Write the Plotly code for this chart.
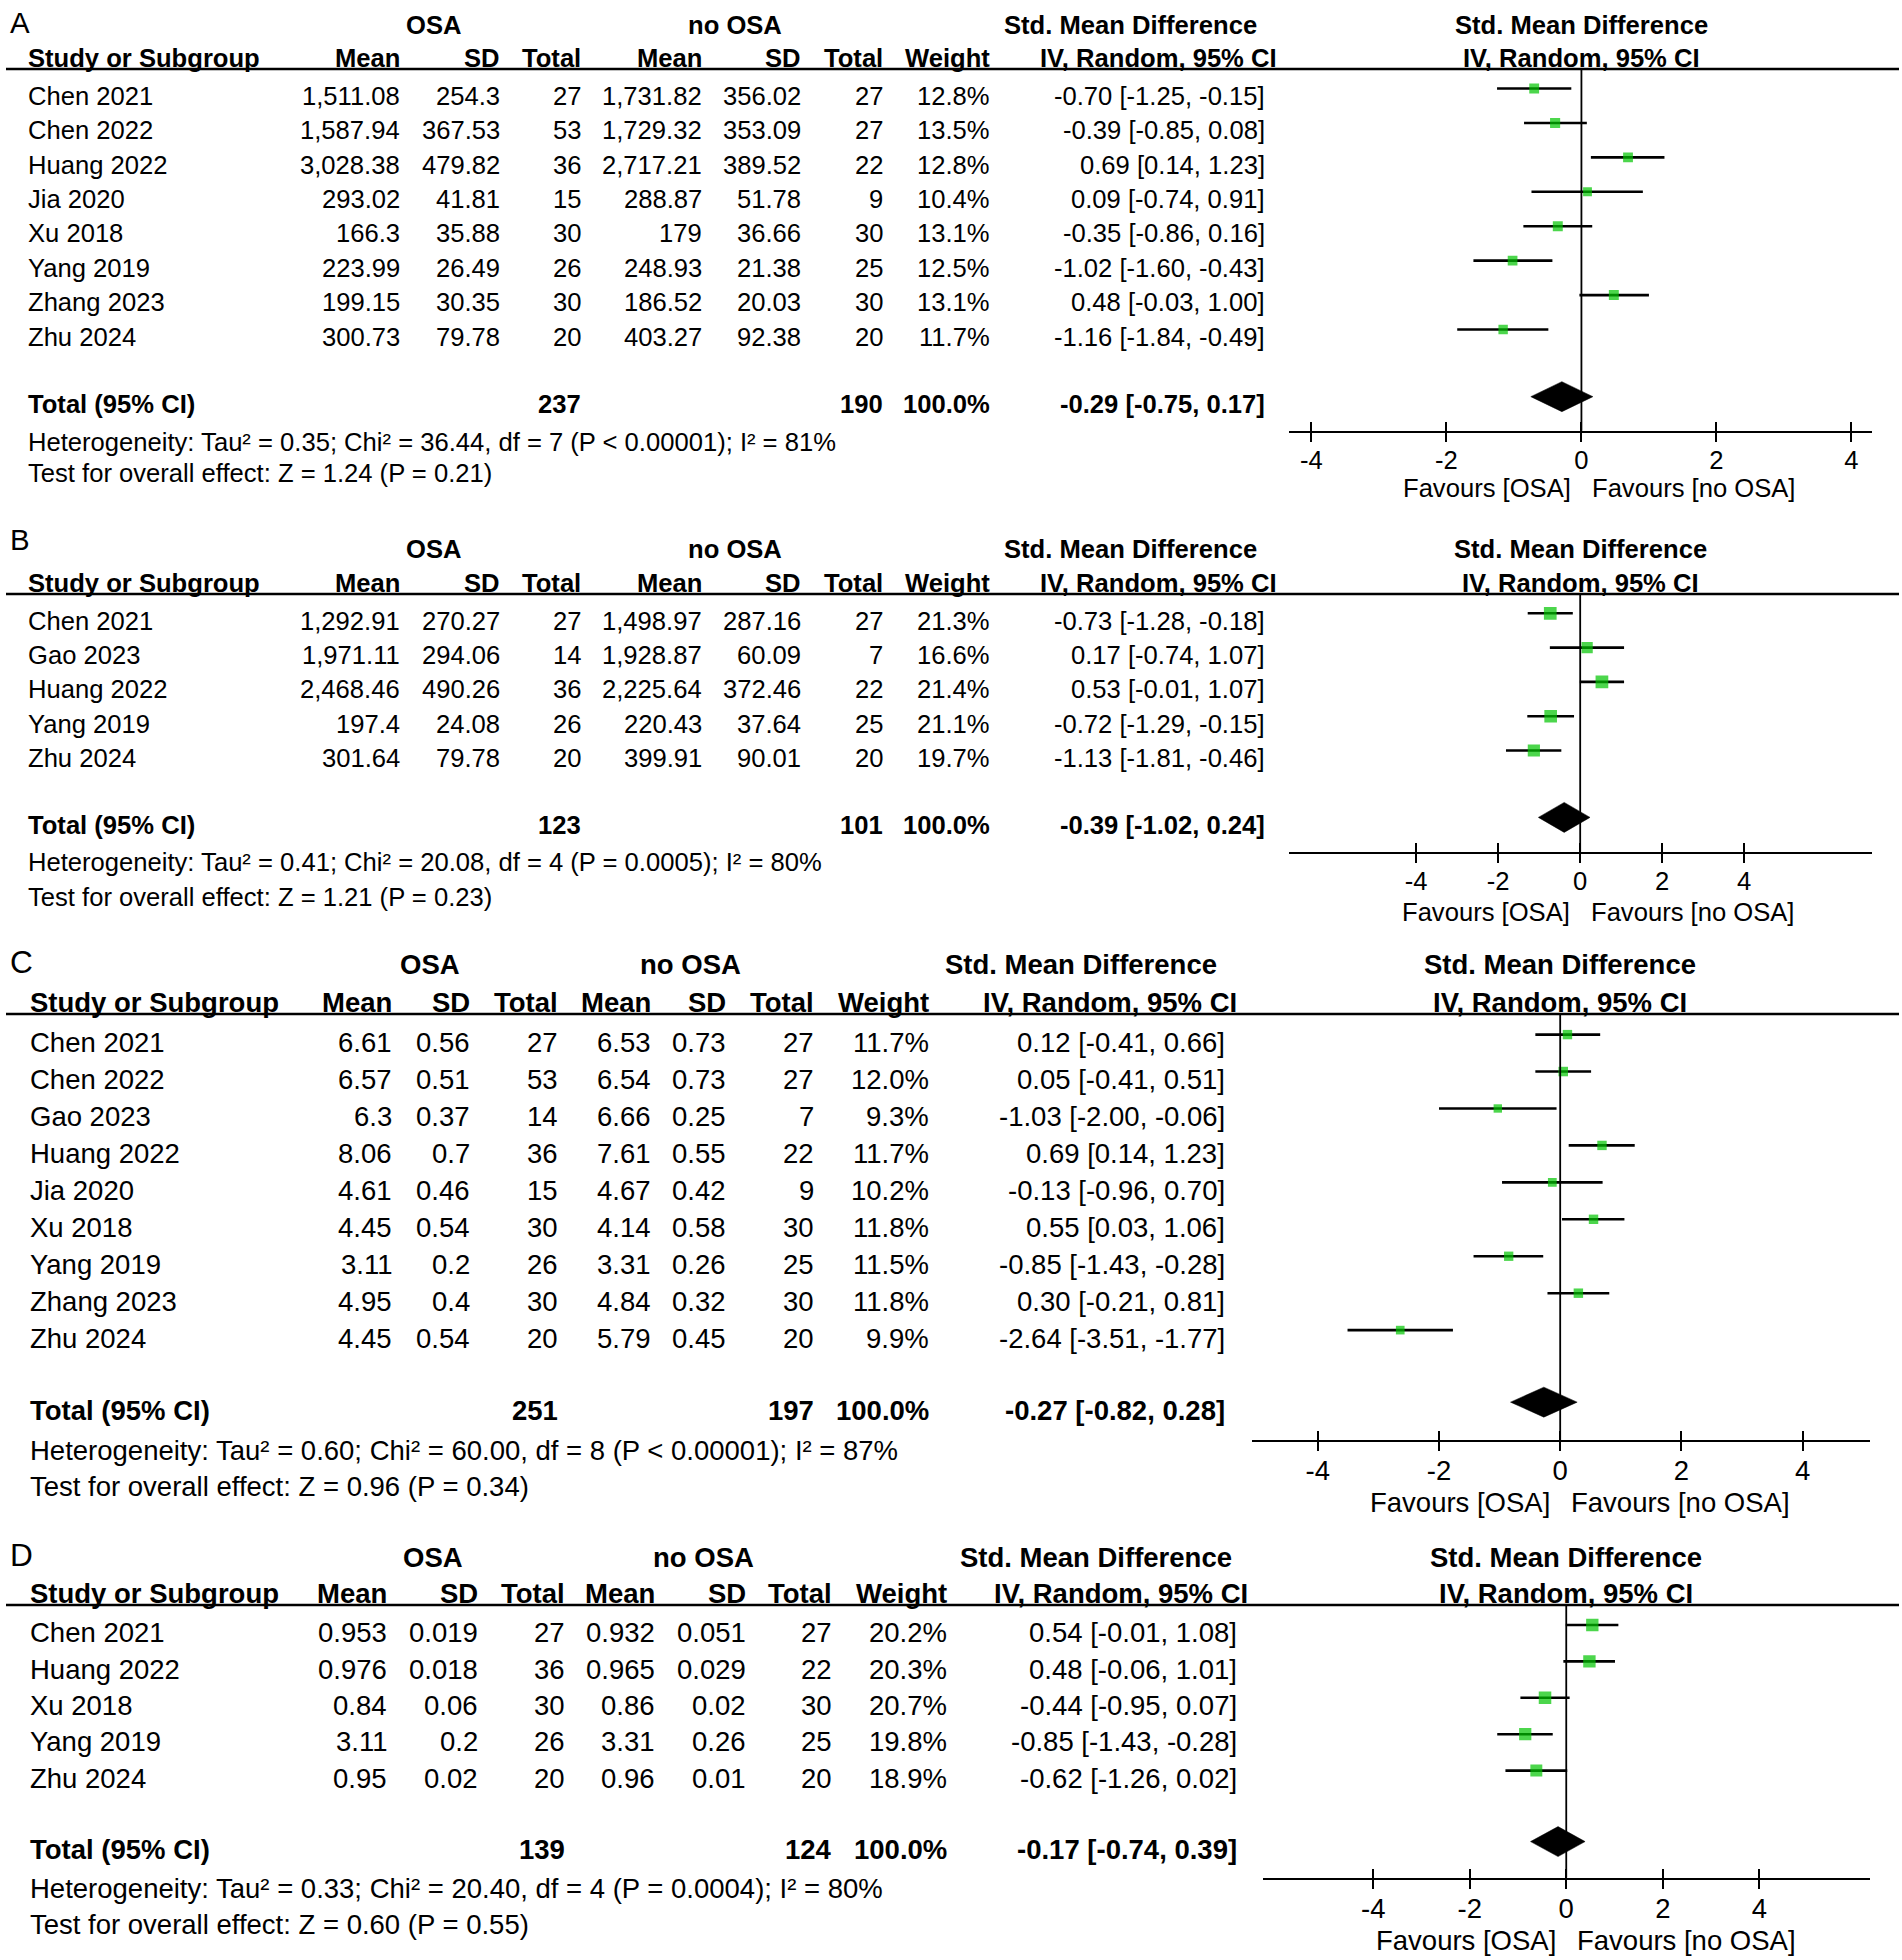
import math
import plotly.graph_objects as go

W, H = 1902, 1960
FONT = "Liberation Sans, Arial, Helvetica, sans-serif"
INK = "#000000"
GREEN = "#00C400"

# ---------------- data ----------------
tick_values = [-4, -2, 0, 2, 4]
tick_labels = ["-4", "-2", "0", "2", "4"]

# Panel A
studies_A = ["Chen 2021", "Chen 2022", "Huang 2022", "Jia 2020", "Xu 2018", "Yang 2019", "Zhang 2023", "Zhu 2024"]
osa_mean_A = [1511.08, 1587.94, 3028.38, 293.02, 166.3, 223.99, 199.15, 300.73]
osa_sd_A = [254.3, 367.53, 479.82, 41.81, 35.88, 26.49, 30.35, 79.78]
osa_n_A = [27, 53, 36, 15, 30, 26, 30, 20]
ctl_mean_A = [1731.82, 1729.32, 2717.21, 288.87, 179, 248.93, 186.52, 403.27]
ctl_sd_A = [356.02, 353.09, 389.52, 51.78, 36.66, 21.38, 20.03, 92.38]
ctl_n_A = [27, 27, 22, 9, 30, 25, 30, 20]
weight_A = [12.8, 13.5, 12.8, 10.4, 13.1, 12.5, 13.1, 11.7]
smd_A = [-0.70, -0.39, 0.69, 0.09, -0.35, -1.02, 0.48, -1.16]
lo_A = [-1.25, -0.85, 0.14, -0.74, -0.86, -1.60, -0.03, -1.84]
hi_A = [-0.15, 0.08, 1.23, 0.91, 0.16, -0.43, 1.00, -0.49]
total_A = dict(n_osa=237, n_ctl=190, weight=100.0, smd=-0.29, lo=-0.75, hi=0.17)
het_A = "Heterogeneity: Tau² = 0.35; Chi² = 36.44, df = 7 (P < 0.00001); I² = 81%"
test_A = "Test for overall effect: Z = 1.24 (P = 0.21)"

# Panel B
studies_B = ["Chen 2021", "Gao 2023", "Huang 2022", "Yang 2019", "Zhu 2024"]
osa_mean_B = [1292.91, 1971.11, 2468.46, 197.4, 301.64]
osa_sd_B = [270.27, 294.06, 490.26, 24.08, 79.78]
osa_n_B = [27, 14, 36, 26, 20]
ctl_mean_B = [1498.97, 1928.87, 2225.64, 220.43, 399.91]
ctl_sd_B = [287.16, 60.09, 372.46, 37.64, 90.01]
ctl_n_B = [27, 7, 22, 25, 20]
weight_B = [21.3, 16.6, 21.4, 21.1, 19.7]
smd_B = [-0.73, 0.17, 0.53, -0.72, -1.13]
lo_B = [-1.28, -0.74, -0.01, -1.29, -1.81]
hi_B = [-0.18, 1.07, 1.07, -0.15, -0.46]
total_B = dict(n_osa=123, n_ctl=101, weight=100.0, smd=-0.39, lo=-1.02, hi=0.24)
het_B = "Heterogeneity: Tau² = 0.41; Chi² = 20.08, df = 4 (P = 0.0005); I² = 80%"
test_B = "Test for overall effect: Z = 1.21 (P = 0.23)"

# Panel C
studies_C = ["Chen 2021", "Chen 2022", "Gao 2023", "Huang 2022", "Jia 2020", "Xu 2018", "Yang 2019", "Zhang 2023", "Zhu 2024"]
osa_mean_C = [6.61, 6.57, 6.3, 8.06, 4.61, 4.45, 3.11, 4.95, 4.45]
osa_sd_C = [0.56, 0.51, 0.37, 0.7, 0.46, 0.54, 0.2, 0.4, 0.54]
osa_n_C = [27, 53, 14, 36, 15, 30, 26, 30, 20]
ctl_mean_C = [6.53, 6.54, 6.66, 7.61, 4.67, 4.14, 3.31, 4.84, 5.79]
ctl_sd_C = [0.73, 0.73, 0.25, 0.55, 0.42, 0.58, 0.26, 0.32, 0.45]
ctl_n_C = [27, 27, 7, 22, 9, 30, 25, 30, 20]
weight_C = [11.7, 12.0, 9.3, 11.7, 10.2, 11.8, 11.5, 11.8, 9.9]
smd_C = [0.12, 0.05, -1.03, 0.69, -0.13, 0.55, -0.85, 0.30, -2.64]
lo_C = [-0.41, -0.41, -2.00, 0.14, -0.96, 0.03, -1.43, -0.21, -3.51]
hi_C = [0.66, 0.51, -0.06, 1.23, 0.70, 1.06, -0.28, 0.81, -1.77]
total_C = dict(n_osa=251, n_ctl=197, weight=100.0, smd=-0.27, lo=-0.82, hi=0.28)
het_C = "Heterogeneity: Tau² = 0.60; Chi² = 60.00, df = 8 (P < 0.00001); I² = 87%"
test_C = "Test for overall effect: Z = 0.96 (P = 0.34)"

# Panel D
studies_D = ["Chen 2021", "Huang 2022", "Xu 2018", "Yang 2019", "Zhu 2024"]
osa_mean_D = [0.953, 0.976, 0.84, 3.11, 0.95]
osa_sd_D = [0.019, 0.018, 0.06, 0.2, 0.02]
osa_n_D = [27, 36, 30, 26, 20]
ctl_mean_D = [0.932, 0.965, 0.86, 3.31, 0.96]
ctl_sd_D = [0.051, 0.029, 0.02, 0.26, 0.01]
ctl_n_D = [27, 22, 30, 25, 20]
weight_D = [20.2, 20.3, 20.7, 19.8, 18.9]
smd_D = [0.54, 0.48, -0.44, -0.85, -0.62]
lo_D = [-0.01, -0.06, -0.95, -1.43, -1.26]
hi_D = [1.08, 1.01, 0.07, -0.28, 0.02]
total_D = dict(n_osa=139, n_ctl=124, weight=100.0, smd=-0.17, lo=-0.74, hi=0.39)
het_D = "Heterogeneity: Tau² = 0.33; Chi² = 20.40, df = 4 (P = 0.0004); I² = 80%"
test_D = "Test for overall effect: Z = 0.60 (P = 0.55)"

panels = [
    dict(letter="A", studies=studies_A, om=osa_mean_A, osd=osa_sd_A, on=osa_n_A, cm=ctl_mean_A, csd=ctl_sd_A, cn=ctl_n_A,
         w=weight_A, smd=smd_A, lo=lo_A, hi=hi_A, tot=total_A, het=het_A, test=test_A),
    dict(letter="B", studies=studies_B, om=osa_mean_B, osd=osa_sd_B, on=osa_n_B, cm=ctl_mean_B, csd=ctl_sd_B, cn=ctl_n_B,
         w=weight_B, smd=smd_B, lo=lo_B, hi=hi_B, tot=total_B, het=het_B, test=test_B),
    dict(letter="C", studies=studies_C, om=osa_mean_C, osd=osa_sd_C, on=osa_n_C, cm=ctl_mean_C, csd=ctl_sd_C, cn=ctl_n_C,
         w=weight_C, smd=smd_C, lo=lo_C, hi=hi_C, tot=total_C, het=het_C, test=test_C),
    dict(letter="D", studies=studies_D, om=osa_mean_D, osd=osa_sd_D, on=osa_n_D, cm=ctl_mean_D, csd=ctl_sd_D, cn=ctl_n_D,
         w=weight_D, smd=smd_D, lo=lo_D, hi=hi_D, tot=total_D, het=het_D, test=test_D),
]

# ---------------- layout geometry (pixels) ----------------
GEOM = [
    dict(fs=25.6, top=69, row0=88.5, sp=34.43, axis=430.7, grp=25, col=58, het=441.7, test=473, fav=488, label=23, toff=7.2,
         left=27, cols=[401, 501, 582, 703, 802, 884, 991, 1266], cihdr=1278, osa_c=433, ctl_c=735, smd_c=1130,
         dom=[1288.8, 1871.7], rng=[-4.335, 4.30]),
    dict(fs=25.6, top=594, row0=613.3, sp=34.3, axis=851.7, grp=549, col=583, het=861.7, test=896.7, fav=911.7, label=539, toff=7.4,
         left=27, cols=[401, 501, 582, 703, 802, 884, 991, 1266], cihdr=1278, osa_c=433, ctl_c=735, smd_c=1130,
         dom=[1288.8, 1871.7], rng=[-7.107, 7.11]),
    dict(fs=27.5, top=1014, row0=1034.6, sp=36.94, axis=1440, grp=965, col=1002.5, het=1450.5, test=1486, fav=1502, label=962, toff=7.9,
         left=29, cols=[393, 471, 559, 651.5, 727, 815, 930, 1226], cihdr=1238, osa_c=430, ctl_c=690, smd_c=1081,
         dom=[1251.8, 1869.8], rng=[-5.09, 5.11]),
    dict(fs=27.5, top=1605, row0=1625, sp=36.4, axis=1877.5, grp=1557, col=1593, het=1888, test=1924, fav=1940, label=1555, toff=7.7,
         left=29, cols=[388, 479, 565.5, 656, 747, 833, 948, 1238], cihdr=1249, osa_c=433, ctl_c=703, smd_c=1096,
         dom=[1262.7, 1869.8], rng=[-6.29, 6.29]),
]
TOTAL_GAP = 1.95      # rows between last study and total row
SQ = 2.75             # square side per sqrt(weight %)
DIAMOND_HALF = 15     # px
LETTER_SCALE = 1.15

def PX(x):
    return x / W

def PY(y):
    return 1 - y / H

def fmt(v):
    return f"{v:,}"

fig = go.Figure()
annotations = []
shapes = []
layout_axes = {}

def txt(text, x, y, xref, yref, anchor, size, bold=False, yshift=0, xshift=0):
    annotations.append(dict(
        text=f"<b>{text}</b>" if bold else text, x=x, y=y, xref=xref, yref=yref,
        xanchor=anchor, yanchor="middle", showarrow=False, borderpad=0,
        yshift=yshift, xshift=xshift, font=dict(family=FONT, size=size, color=INK)))

for k, (p, g) in enumerate(zip(panels, GEOM), start=1):
    xa = "x" if k == 1 else f"x{k}"
    ya = "y" if k == 1 else f"y{k}"
    xo = f"x{k + 4}"
    fs = g["fs"]
    n = len(p["studies"])
    rows = list(range(n))
    trow = n - 1 + TOTAL_GAP

    # CI lines
    xs, ys = [], []
    for r, lo, hi in zip(rows, p["lo"], p["hi"]):
        xs += [lo, hi, None]
        ys += [r, r, None]
    fig.add_trace(go.Scatter(x=xs, y=ys, mode="lines", line=dict(color=INK, width=2.6),
                             xaxis=xa, yaxis=ya, hoverinfo="skip", showlegend=False))
    # squares
    fig.add_trace(go.Scatter(x=p["smd"], y=rows, mode="markers",
                             marker=dict(symbol="square", color=GREEN, size=[SQ * math.sqrt(w) for w in p["w"]],
                                         line=dict(width=0)),
                             xaxis=xa, yaxis=ya, hoverinfo="skip", showlegend=False))
    # diamond (drawn on overlay axis, same scale)
    t = p["tot"]
    dh = DIAMOND_HALF / g["sp"]
    fig.add_trace(go.Scatter(x=[t["lo"], t["smd"], t["hi"], t["smd"], t["lo"]],
                             y=[trow, trow - dh, trow, trow + dh, trow],
                             mode="lines", fill="toself", fillcolor="black", line=dict(color="black", width=0.5),
                             xaxis=xo, yaxis=ya, hoverinfo="skip", showlegend=False))

    # axes
    rb = (g["axis"] - g["row0"]) / g["sp"]
    rt = (g["top"] - g["row0"]) / g["sp"]
    layout_axes["yaxis" if k == 1 else f"yaxis{k}"] = dict(
        domain=[PY(g["axis"]), PY(g["top"])], range=[rb, rt], visible=False, anchor=xa, fixedrange=True)
    common = dict(range=g["rng"], tickvals=tick_values, showgrid=False, zeroline=False, fixedrange=True)
    layout_axes["xaxis" if k == 1 else f"xaxis{k}"] = dict(
        domain=[PX(g["dom"][0]), PX(g["dom"][1])], anchor=ya, showline=True, linecolor="black", linewidth=2.4,
        ticks="outside", ticklen=9, tickwidth=2.3, tickcolor="black", ticktext=tick_labels,
        tickfont=dict(family=FONT, size=fs, color=INK), ticklabelstandoff=-4, **common)
    layout_axes[f"xaxis{k + 4}"] = dict(
        overlaying=xa, anchor=ya, side="bottom", showline=False, ticks="inside", ticklen=9, tickwidth=2.3,
        tickcolor="black", showticklabels=False, **common)

    # zero line and header rule
    yd = "y domain" if k == 1 else f"y{k} domain"
    shapes.append(dict(type="line", xref=xa, yref=yd, x0=0, x1=0, y0=0, y1=1, line=dict(color="black", width=1.8)))
    shapes.append(dict(type="line", xref="paper", yref=yd, x0=PX(6), x1=PX(1899), y0=1, y1=1,
                       line=dict(color="black", width=2.7)))

    # panel letter & group headers
    txt(p["letter"], PX(9), PY(g["label"]), "paper", "paper", "left", fs * LETTER_SCALE)
    txt("OSA", PX(g["osa_c"]), PY(g["grp"]), "paper", "paper", "center", fs, bold=True)
    txt("no OSA", PX(g["ctl_c"]), PY(g["grp"]), "paper", "paper", "center", fs, bold=True)
    txt("Std. Mean Difference", PX(g["smd_c"]), PY(g["grp"]), "paper", "paper", "center", fs, bold=True)
    txt("Std. Mean Difference", 0, PY(g["grp"]), xa, "paper", "center", fs, bold=True)

    # column headers
    c = g["cols"]
    txt("Study or Subgroup", PX(g["left"]), PY(g["col"]), "paper", "paper", "left", fs, bold=True)
    for label, cx in zip(["Mean", "SD", "Total", "Mean", "SD", "Total", "Weight"], c[:7]):
        txt(label, PX(cx), PY(g["col"]), "paper", "paper", "right", fs, bold=True)
    txt("IV, Random, 95% CI", PX(g["cihdr"]), PY(g["col"]), "paper", "paper", "right", fs, bold=True)
    txt("IV, Random, 95% CI", 0, PY(g["col"]), xa, "paper", "center", fs, bold=True)

    # study rows
    ysh = -g["toff"]
    for r in rows:
        vals = [fmt(p["om"][r]), fmt(p["osd"][r]), str(p["on"][r]), fmt(p["cm"][r]), fmt(p["csd"][r]),
                str(p["cn"][r]), f"{p['w'][r]:.1f}%",
                f"{p['smd'][r]:.2f} [{p['lo'][r]:.2f}, {p['hi'][r]:.2f}]"]
        txt(p["studies"][r], PX(g["left"]), r, "paper", ya, "left", fs, yshift=ysh)
        for v, cx in zip(vals, c):
            txt(v, PX(cx), r, "paper", ya, "right", fs, yshift=ysh)

    # total row
    txt("Total (95% CI)", PX(g["left"]), trow, "paper", ya, "left", fs, bold=True, yshift=ysh)
    txt(str(t["n_osa"]), PX(c[2]), trow, "paper", ya, "right", fs, bold=True, yshift=ysh)
    txt(str(t["n_ctl"]), PX(c[5]), trow, "paper", ya, "right", fs, bold=True, yshift=ysh)
    txt(f"{t['weight']:.1f}%", PX(c[6]), trow, "paper", ya, "right", fs, bold=True, yshift=ysh)
    txt(f"{t['smd']:.2f} [{t['lo']:.2f}, {t['hi']:.2f}]", PX(c[7]), trow, "paper", ya, "right", fs, bold=True, yshift=ysh)

    # heterogeneity / overall effect
    txt(p["het"], PX(g["left"]), PY(g["het"]), "paper", "paper", "left", fs)
    txt(p["test"], PX(g["left"]), PY(g["test"]), "paper", "paper", "left", fs)

    # favours labels
    txt("Favours [OSA]", 0, PY(g["fav"]), xa, "paper", "right", fs, xshift=-9)
    txt("Favours [no OSA]", 0, PY(g["fav"]), xa, "paper", "left", fs, xshift=10)

fig.update_layout(
    width=W, height=H, autosize=False, margin=dict(l=0, r=0, t=0, b=0),
    paper_bgcolor="white", plot_bgcolor="white", showlegend=False,
    annotations=annotations, shapes=shapes, **layout_axes)

fig.write_html("out.html", config={"displayModeBar": False},
               post_script="document.body.style.margin='0px';")
